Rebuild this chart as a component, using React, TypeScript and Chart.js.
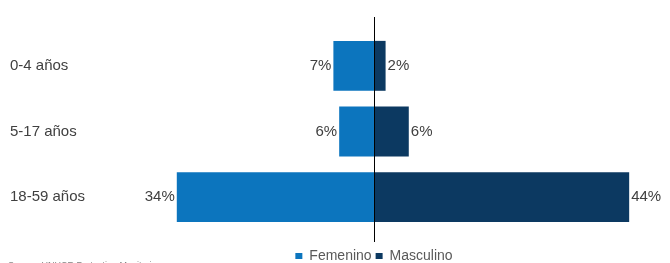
import React, { useEffect, useRef } from "react";
import { Chart, registerables } from "chart.js";

Chart.register(...registerables);

const categories = ["0-4 años", "5-17 años", "18-59 años"];
const femenino = [7, 6, 34];
const masculino = [2, 6, 44];
const seriesNames = ["Femenino", "Masculino"];
const sourceNote = "Source: UNHCR Protection Monitoring";

const FEM_COLOR = "#0C75BE";
const MAS_COLOR = "#0C3961";
const TEXT_COLOR = "#404040";
const FONT = "'Liberation Sans', Arial, sans-serif";

const centerLine = {
  id: "centerLine",
  afterDatasetsDraw(chart: any) {
    const { ctx, chartArea, scales } = chart;
    const x = Math.round(scales.x.getPixelForValue(0)) + 0.5;
    ctx.save();
    ctx.strokeStyle = "#000000";
    ctx.lineWidth = 1;
    ctx.beginPath();
    ctx.moveTo(x, chartArea.top - 16);
    ctx.lineTo(x, chartArea.bottom + 12);
    ctx.stroke();
    ctx.restore();
  },
};

const valueLabels = {
  id: "valueLabels",
  afterDatasetsDraw(chart: any) {
    const { ctx } = chart;
    ctx.save();
    ctx.font = `15px ${FONT}`;
    ctx.fillStyle = TEXT_COLOR;
    ctx.textBaseline = "middle";
    chart.data.datasets.forEach((ds: any, di: number) => {
      const meta = chart.getDatasetMeta(di);
      meta.data.forEach((bar: any, i: number) => {
        const v = Math.abs(ds.data[i]);
        const txt = `${v}%`;
        if (ds.data[i] < 0) {
          ctx.textAlign = "right";
          ctx.fillText(txt, bar.x - 2, bar.y);
        } else {
          ctx.textAlign = "left";
          ctx.fillText(txt, bar.x + 2, bar.y);
        }
      });
    });
    ctx.restore();
  },
};

const legendShift = {
  id: "legendShift",
  afterLayout(chart: any) {
    const lg = chart.legend;
    if (!lg) return;
    lg.top += 15;
    lg.bottom += 15;
    lg.left += 38;
    lg.right += 38;
  },
};

export default function App() {
  const ref = useRef<HTMLCanvasElement | null>(null);

  useEffect(() => {
    if (!ref.current) return;
    Chart.defaults.font.family = FONT;
    const chart = new Chart(ref.current, {
      type: "bar",
      data: {
        labels: categories,
        datasets: [
          {
            label: seriesNames[0],
            data: femenino.map((v) => -v),
            backgroundColor: FEM_COLOR,
            borderWidth: 0,
            barPercentage: 0.76,
            categoryPercentage: 1,
          },
          {
            label: seriesNames[1],
            data: masculino,
            backgroundColor: MAS_COLOR,
            borderWidth: 0,
            barPercentage: 0.76,
            categoryPercentage: 1,
          },
        ],
      },
      options: {
        indexAxis: "y",
        responsive: false,
        animation: false,
        devicePixelRatio: 1,
        layout: { padding: { left: 10, right: 8, top: 33, bottom: 5 } },
        scales: {
          x: {
            stacked: true,
            display: false,
            min: -38.62,
            max: 49.66,
          },
          y: {
            stacked: true,
            grid: { display: false },
            border: { display: false },
            ticks: {
              crossAlign: "far",
              padding: 0,
              color: TEXT_COLOR,
              font: { size: 15, family: FONT },
            },
            afterFit(scale: any) {
              scale.width = 140;
            },
          },
        },
        plugins: {
          legend: {
            position: "bottom",
            labels: {
              boxWidth: 7,
              boxHeight: 6,
              padding: 4,
              color: "#595959",
              font: { size: 14, family: FONT },
            },
          },
          tooltip: { enabled: false },
          title: { display: false },
        },
      },
      plugins: [centerLine, valueLabels, legendShift],
    } as any);
    return () => chart.destroy();
  }, []);

  return (
    <div
      style={{
        position: "fixed",
        top: 0,
        left: 0,
        width: 670,
        height: 263,
        overflow: "hidden",
        background: "#ffffff",
      }}
    >
      <canvas ref={ref} width={670} height={263} style={{ display: "block" }} />
      <div
        style={{
          position: "absolute",
          left: 8,
          top: 260,
          fontFamily: FONT,
          fontSize: 9,
          color: "#7f7f7f",
          whiteSpace: "nowrap",
        }}
      >
        {sourceNote}
      </div>
    </div>
  );
}
